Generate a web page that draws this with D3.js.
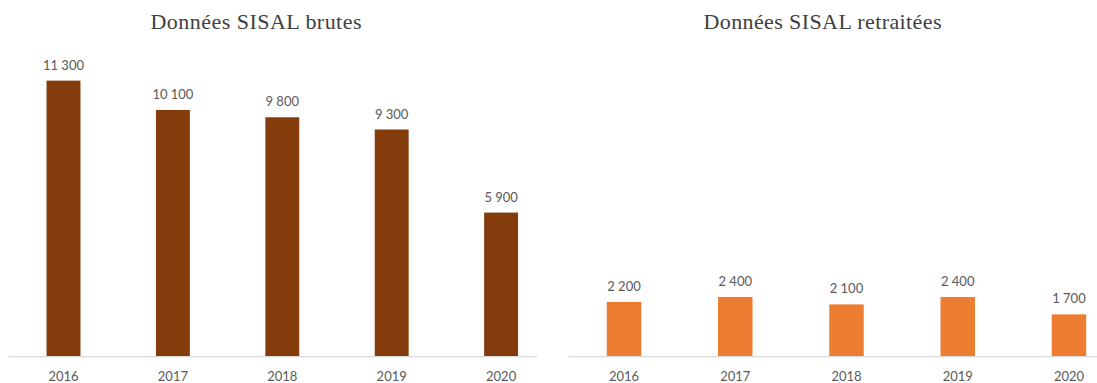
<!DOCTYPE html>
<html>
<head>
<meta charset="utf-8">
<script src="https://cdn.jsdelivr.net/npm/d3@7"></script>
<style>
  html, body { margin: 0; padding: 0; background: #fff; }
  svg { display: block; }
</style>
</head>
<body>
<svg id="chart" width="1097" height="383"></svg>
<script>
// Years shown on both category axes
const years = ["2016", "2017", "2018", "2019", "2020"];
// Raw SISAL counts
const rawValues = [11300, 10100, 9800, 9300, 5900];
// Reprocessed SISAL counts
const reworkedValues = [2200, 2400, 2100, 2400, 1700];
// Panel titles
const titles = ["Données SISAL brutes", "Données SISAL retraitées"];

const svg = d3.select("#chart");
const fmt = v => d3.format(",")(v).replace(/,/g, "\u202F");

const baseline = 356.7;

const panels = [
  {
    title: titles[0], values: rawValues, color: "#843C0C",
    xRange: [8.8, 555.8], axisEnd: 537, yTop: baseline - 12000 * 0.02443,
    titleX: 256, titleW: 211
  },
  {
    title: titles[1], values: reworkedValues, color: "#ED7D31",
    xRange: [568.4, 1124.6], axisEnd: 1097, yTop: baseline - 12000 * 0.02490,
    titleX: 822.5, titleW: 238
  }
];

panels.forEach(p => {
  const g = svg.append("g");
  const x = d3.scaleBand().domain(years).range(p.xRange).paddingInner(0.69).paddingOuter(0.345);
  const y = d3.scaleLinear().domain([0, 12000]).range([baseline, p.yTop]);

  // title
  g.append("text")
    .attr("x", p.titleX).attr("y", 29)
    .attr("text-anchor", "middle")
    .attr("font-family", "'Palatino Linotype','Book Antiqua','Liberation Serif',serif")
    .attr("font-size", 22)
    .attr("fill", "#404040")
    .attr("textLength", p.titleW)
    .attr("lengthAdjust", "spacing")
    .text(p.title);

  // bars
  g.selectAll("rect").data(p.values).join("rect")
    .attr("x", (d, i) => x(years[i]))
    .attr("width", x.bandwidth())
    .attr("y", d => y(d))
    .attr("height", d => y(0) - y(d))
    .attr("fill", p.color);

  // value labels
  g.selectAll("text.val").data(p.values).join("text")
    .attr("class", "val")
    .attr("x", (d, i) => x(years[i]) + x.bandwidth() / 2)
    .attr("y", d => y(d) - 11)
    .attr("text-anchor", "middle")
    .attr("font-family", "Lato, 'Open Sans', sans-serif")
    .attr("font-size", 13)
    .attr("fill", "#595959")
    .text(d => fmt(d));

  // category axis
  const axis = d3.axisBottom(x).tickSize(0).tickPadding(15);
  const ax = g.append("g").attr("transform", `translate(0,${baseline})`).call(axis);
  ax.select(".domain").remove();
  ax.selectAll("text")
    .attr("font-family", "Lato, 'Open Sans', sans-serif")
    .attr("font-size", 13)
    .attr("fill", "#595959");
  g.append("line")
    .attr("x1", p.xRange[0]).attr("x2", p.axisEnd)
    .attr("y1", baseline).attr("y2", baseline)
    .attr("stroke", "#d9d9d9").attr("stroke-width", 1.3);
});
</script>
</body>
</html>
